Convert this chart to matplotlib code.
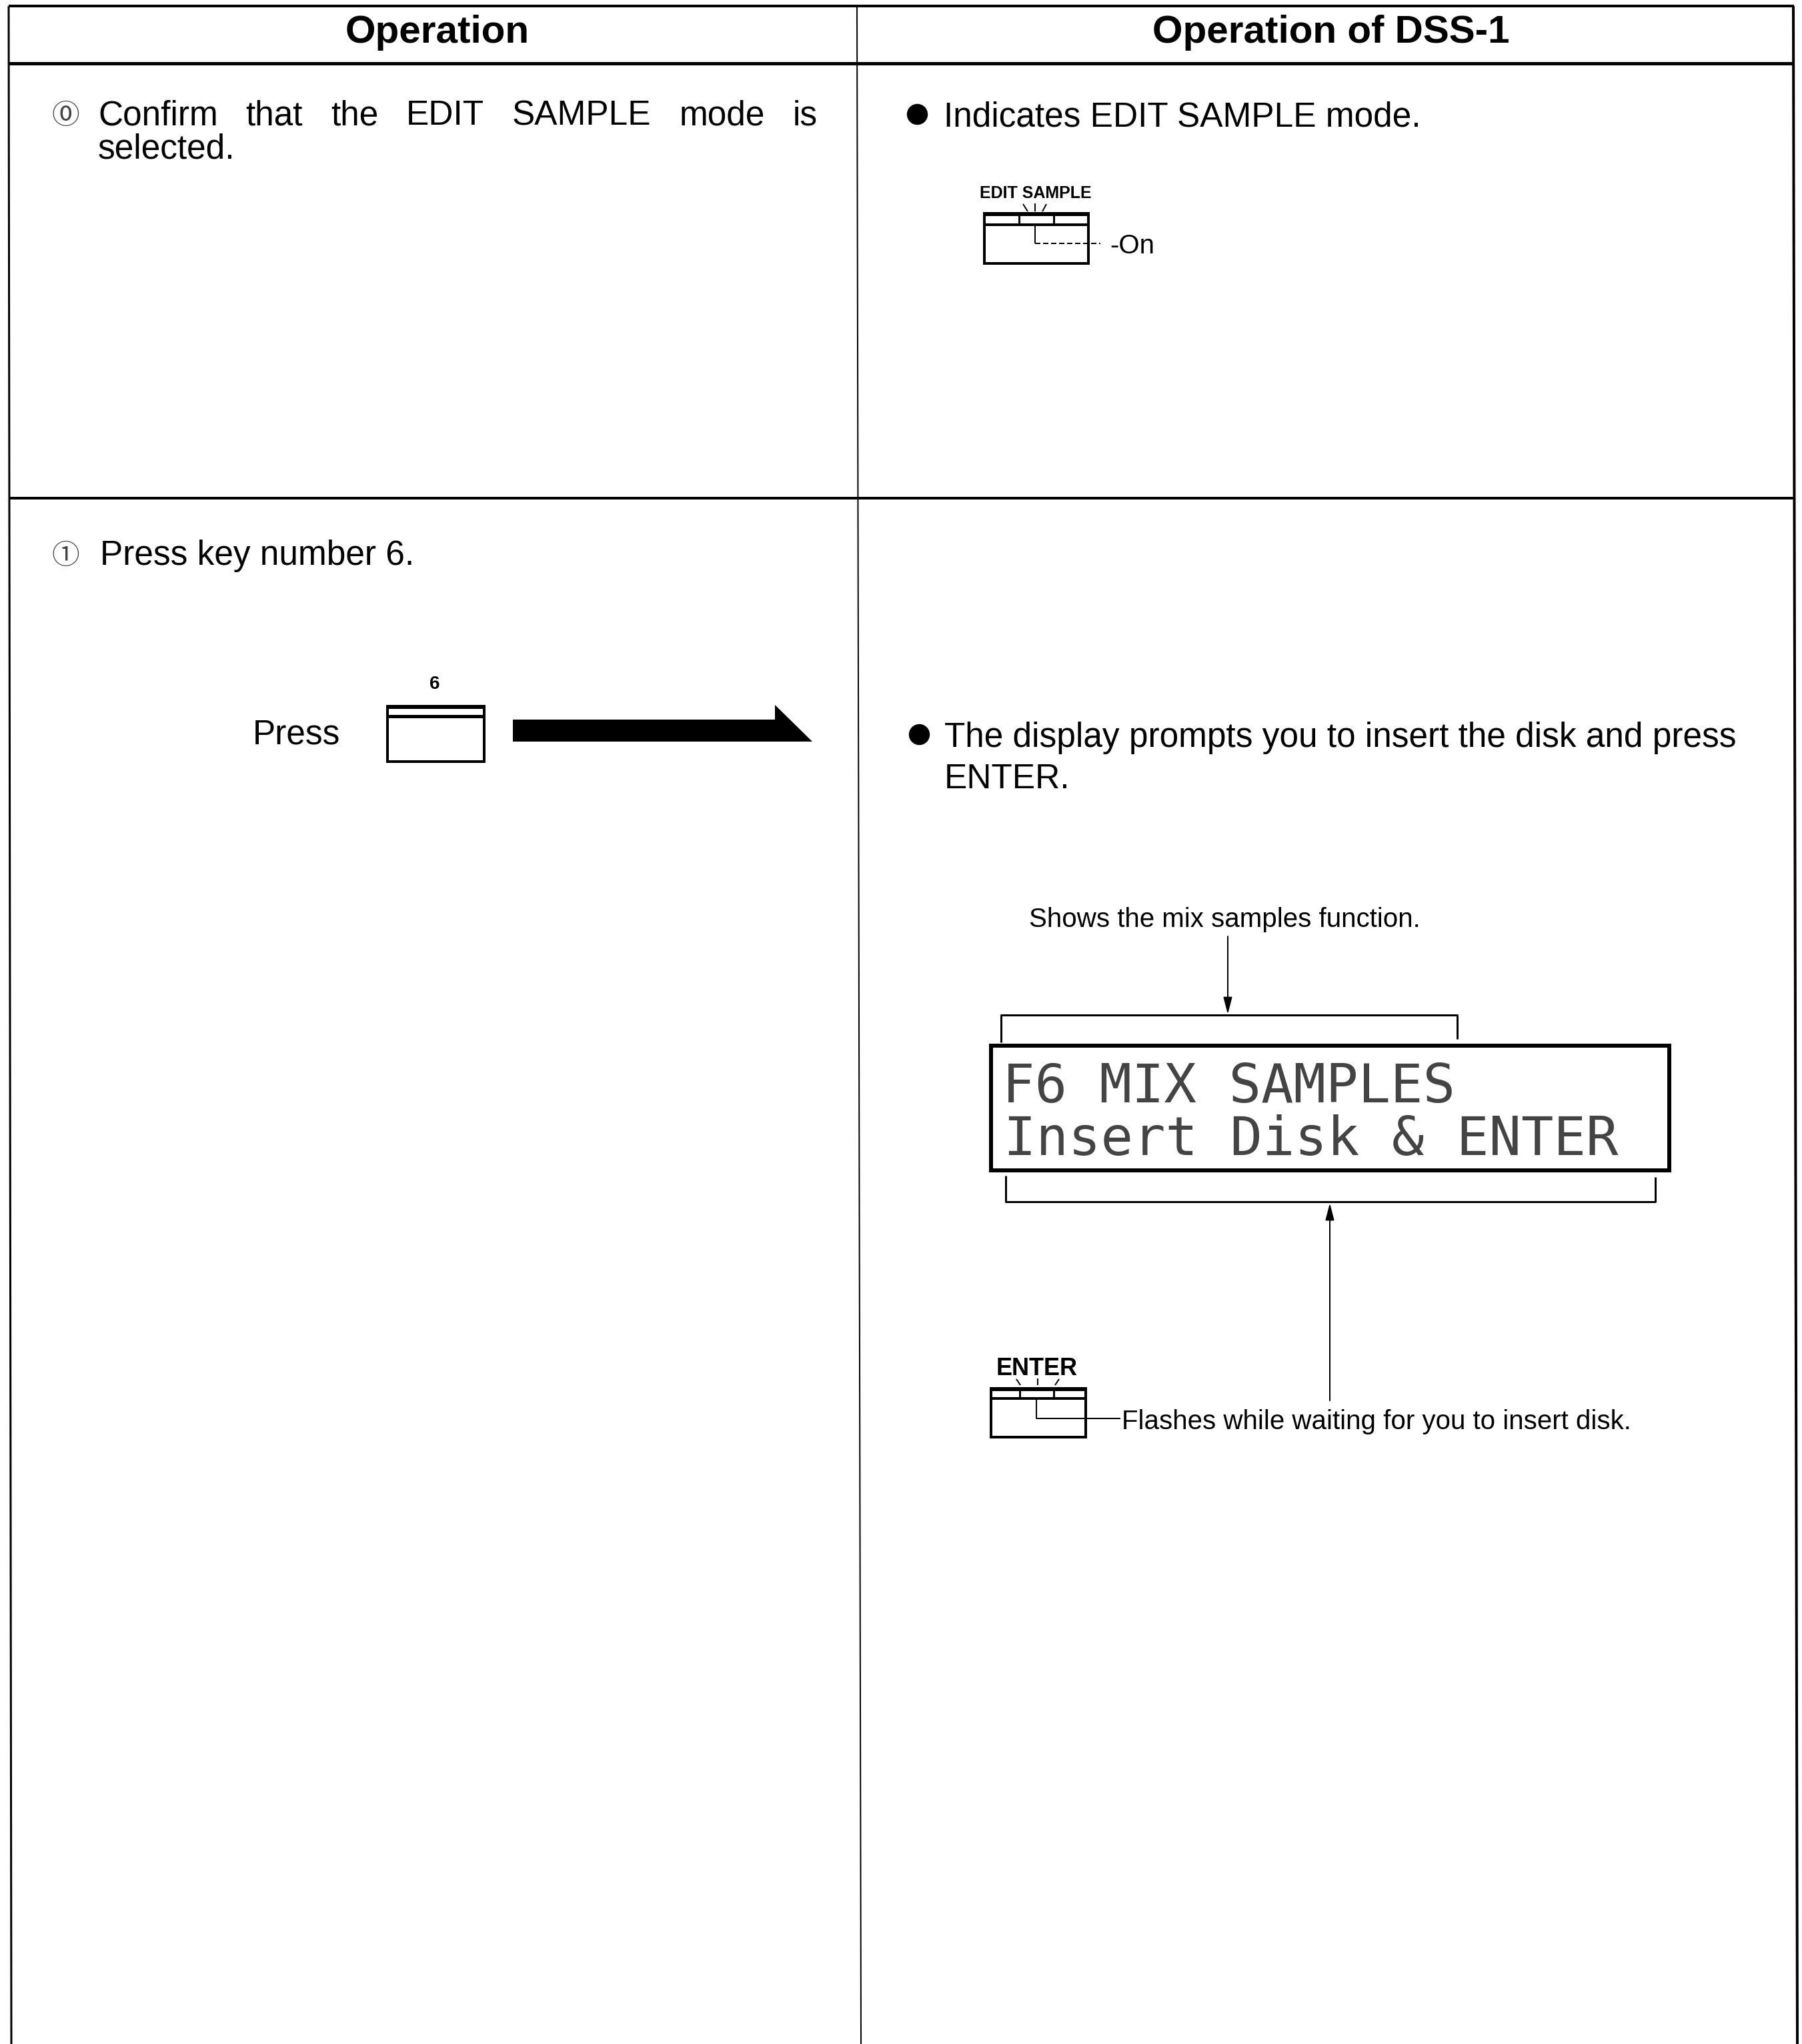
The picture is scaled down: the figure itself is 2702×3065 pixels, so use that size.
import matplotlib.pyplot as plt
from matplotlib.patches import Rectangle, Polygon

W, H = 2702, 3065
DPI = 100

HEADERS = ['Operation', 'Operation of DSS-1']
STEP_MARKS = ['\u24ea', '\u2460']
STEP0_LEFT = ['Confirm that the EDIT SAMPLE mode is', 'selected.']
STEP0_RIGHT = 'Indicates EDIT SAMPLE mode.'
STEP1_LEFT = 'Press key number 6.'
PRESS_WORD = 'Press'
STEP1_RIGHT = ['The display prompts you to insert the disk and press', 'ENTER.']
LCD_LINES = ['F6 MIX SAMPLES', 'Insert Disk & ENTER']
NOTE_TOP = 'Shows the mix samples function.'
NOTE_BOTTOM = 'Flashes while waiting for you to insert disk.'
KEY_LABELS = ['EDIT SAMPLE', '6', 'ENTER']
ON_LABEL = '-On'

SANS = ['Liberation Sans', 'DejaVu Sans']
MARKS = ['Noto Sans CJK JP', 'DejaVu Sans']
MONO = ['DejaVu Sans Mono']
BODY = 37
NOTE = 29


def pt(v):
    # pixels -> points at 100 dpi
    return v * 72.0 / DPI


fig = plt.figure(figsize=(W / DPI, H / DPI), dpi=DPI)
ax = fig.add_axes([0, 0, 1, 1])
ax.set_xlim(0, W)
ax.set_ylim(H, 0)
ax.axis('off')


def line(xs, ys, w=3, **kw):
    ax.plot(xs, ys, color='k', lw=pt(w), solid_capstyle='butt', **kw)


# table frame
line([13, 2690], [9, 9], 4)
line([13, 2690], [95, 95], 5)
line([13, 2690], [747, 747], 4)
line([13, 17], [9, H], 3)
line([2689, 2695], [9, H], 4)
line([1285, 1291], [9, H], 2)

# headers
ax.text(656, 64, HEADERS[0], family=SANS, fontsize=42, fontweight='bold',
        ha='center', va='baseline')
ax.text(1996, 64, HEADERS[1], family=SANS, fontsize=42, fontweight='bold',
        ha='center', va='baseline')

# step 0, left column (justified first line)
ax.text(78, 186, STEP_MARKS[0], family=MARKS, fontsize=30,
        va='baseline', color='#444444')
words = STEP0_LEFT[0].split()
objs = [ax.text(0, 187, w, family=SANS, fontsize=BODY, va='baseline') for w in words]
ax.text(147, 238, STEP0_LEFT[1], family=SANS, fontsize=BODY, va='baseline')

# step 0, right column
ax.plot([1375], [171], 'o', color='k', markersize=pt(30))
ax.text(1415, 190, STEP0_RIGHT, family=SANS, fontsize=BODY, va='baseline')

# EDIT SAMPLE key
ax.text(1553, 297, KEY_LABELS[0], family=SANS, fontsize=18, fontweight='bold',
        ha='center', va='baseline')
for xs, ys in [([1534, 1541], [306, 317]), ([1552, 1552], [305, 317]),
               ([1569, 1563], [306, 317])]:
    line(xs, ys, 2)
ax.add_patch(Rectangle((1476, 320), 156, 75, fill=False, ec='k', lw=pt(4)))
line([1476, 1632], [321, 321], 6)
line([1476, 1632], [337, 337], 4)
line([1528, 1528], [320, 337], 3)
line([1580, 1580], [320, 337], 3)
line([1552, 1552], [337, 365], 2)
line([1552, 1650], [365, 365], 2, linestyle=(0, (4, 2)))
ax.text(1664, 380, ON_LABEL, family=SANS, fontsize=NOTE, va='baseline')

# step 1, left column
ax.text(78, 846, STEP_MARKS[1], family=MARKS, fontsize=30,
        va='baseline', color='#444444')
ax.text(150, 847, STEP1_LEFT, family=SANS, fontsize=BODY, va='baseline')
ax.text(379, 1115, PRESS_WORD, family=SANS, fontsize=BODY, va='baseline')

# key 6
ax.text(652, 1033, KEY_LABELS[1], family=SANS, fontsize=20, fontweight='bold',
        ha='center', va='baseline')
ax.add_patch(Rectangle((581, 1059), 145, 83, fill=False, ec='k', lw=pt(4)))
line([581, 726], [1060, 1060], 5)
line([581, 726], [1074, 1074], 5)

# big arrow
ax.add_patch(Polygon([(769, 1079), (1162, 1079), (1162, 1057), (1218, 1112),
                      (769, 1112)], closed=True, fc='k', ec='k', lw=0))

# step 1, right column
ax.plot([1378], [1101], 'o', color='k', markersize=pt(30))
ax.text(1416, 1120, STEP1_RIGHT[0], family=SANS, fontsize=BODY, va='baseline')
ax.text(1416, 1182, STEP1_RIGHT[1], family=SANS, fontsize=BODY, va='baseline')

# note above display
ax.text(1543, 1390, NOTE_TOP, family=SANS, fontsize=NOTE, va='baseline')
ax.annotate('', xy=(1841, 1521), xytext=(1841, 1404),
            arrowprops=dict(arrowstyle='-|>,head_width=0.18,head_length=0.7',
                            lw=pt(2), color='k', mutation_scale=22,
                            shrinkA=0, shrinkB=0))
line([1501, 1501, 2185, 2185], [1563, 1522, 1522, 1558], 3)

# LCD display
ax.add_patch(Rectangle((1486, 1568), 1017, 187, fill=False, ec='k', lw=pt(6)))
ax.text(1503, 1653, LCD_LINES[0], family=MONO, fontsize=58, va='baseline',
        color='#444444')
ax.text(1505, 1732, LCD_LINES[1], family=MONO, fontsize=58, va='baseline',
        color='#444444')
line([1508, 1508, 2482, 2482], [1763, 1802, 1802, 1765], 3)
ax.annotate('', xy=(1994, 1804), xytext=(1994, 2100),
            arrowprops=dict(arrowstyle='-|>,head_width=0.18,head_length=0.7',
                            lw=pt(2), color='k', mutation_scale=22,
                            shrinkA=0, shrinkB=0))

# ENTER key
ax.text(1555, 2062, KEY_LABELS[2], family=SANS, fontsize=26, fontweight='bold',
        ha='center', va='baseline')
for xs, ys in [([1524, 1530], [2068, 2077]), ([1556, 1556], [2067, 2077]),
               ([1588, 1582], [2068, 2077])]:
    line(xs, ys, 2)
ax.add_patch(Rectangle((1486, 2082), 142, 73, fill=False, ec='k', lw=pt(4)))
line([1486, 1628], [2083, 2083], 5)
line([1486, 1628], [2097, 2097], 4)
line([1529, 1529], [2082, 2097], 3)
line([1580, 1580], [2082, 2097], 3)
line([1554, 1554, 1680], [2097, 2127, 2127], 2)
ax.text(1682, 2143, NOTE_BOTTOM, family=SANS, fontsize=NOTE, va='baseline')

# justify the first line of step 0 between x=147 and x=1226
fig.canvas.draw()
r = fig.canvas.get_renderer()
widths = [o.get_window_extent(r).width for o in objs]
gap = (1226 - 147 - sum(widths)) / (len(words) - 1)
x = 147
for o, w in zip(objs, widths):
    o.set_x(x)
    x += w + gap

fig.savefig('out.png', dpi=DPI, facecolor='white')
